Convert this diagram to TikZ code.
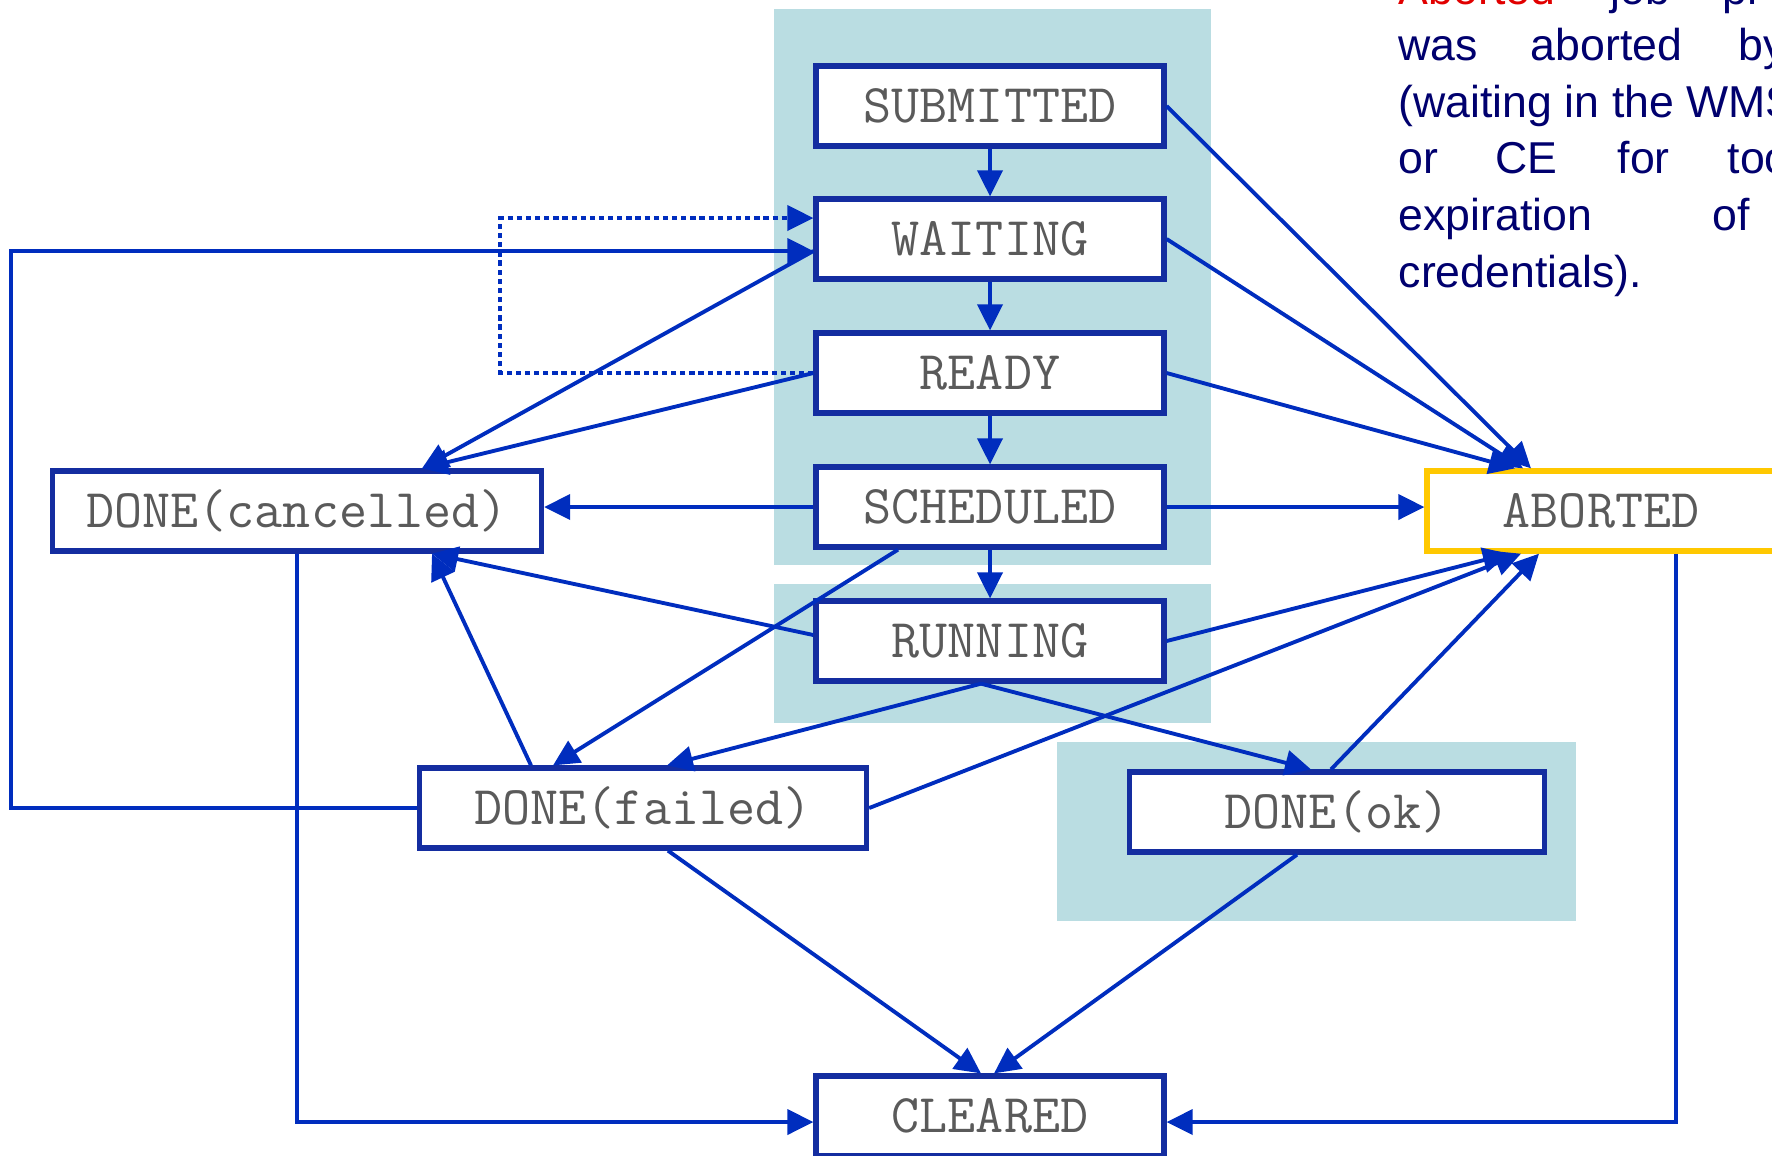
\documentclass[tikz,border=0pt]{standalone}
\usepackage{fontspec}
\setmainfont{Liberation Sans}
\usetikzlibrary{arrows.meta}
\definecolor{edgeblue}{RGB}{0,45,190}
\definecolor{boxblue}{RGB}{20,45,160}
\definecolor{zone}{RGB}{186,221,226}
\definecolor{navy}{RGB}{0,0,110}
\definecolor{abortred}{RGB}{225,0,0}
\definecolor{abortyellow}{RGB}{255,200,0}
\definecolor{stategray}{RGB}{90,90,90}

\begin{document}
\begin{tikzpicture}[>={Triangle[length=2.6mm,width=2.5mm]}, x=0.1mm, y=-0.1mm,
    stbox/.style={draw=boxblue, line width=1.5pt, fill=white, minimum width=34.8mm,
      minimum height=8mm, inner sep=0pt, text=stategray, font=\ttfamily\fontsize{15.5}{17}\selectfont},
    trans/.style={->, draw=edgeblue, line width=1.1pt},
    note/.style={anchor=base west, inner sep=0pt, text=navy, font=\fontsize{12.7}{15}\selectfont}]
        \useasboundingbox (0,0) rectangle (1772,1155);
        % shaded zones
        \fill[zone] (774,9) rectangle (1211,565);
        \fill[zone] (774,584) rectangle (1211,723);
        \fill[zone] (1057,742) rectangle (1576,921);

        \node[stbox] (sub) at (990,106) {SUBMITTED};
        \node[stbox] (wait) at (990,239) {WAITING};
        \node[stbox] (rdy) at (990,373) {READY};
        \node[stbox] (sched) at (990,507) {SCHEDULED};
        \node[stbox] (run) at (990,641) {RUNNING};
        \node[stbox, minimum width=48.9mm] (canc) at (297,511) {DONE(cancelled)};
        \node[stbox, draw=abortyellow] (abrt) at (1601,511) {ABORTED};
        \node[stbox, minimum width=44.7mm] (fail) at (643,808) {DONE(failed)};
        \node[stbox, minimum width=41.5mm] (ok) at (1337,812) {DONE(ok)};
        \node[stbox] (clr) at (990,1116) {CLEARED};

        \draw[trans] (sub) -- (wait);
        \draw[trans] (wait) -- (rdy);
        \draw[trans] (rdy) -- (sched);
        \draw[trans] (sched) -- (run);

        % to ABORTED
        \draw[trans] (sub.east) -- ([xshift=-7mm]abrt.north);
        \draw[trans] (wait.east) -- ([xshift=-7.8mm]abrt.north);
        \draw[trans] (rdy.east) -- ([xshift=-8.6mm]abrt.north);
        \draw[trans] (sched.east) -- (sched.east -| abrt.west);
        \draw[trans] (run.east) -- ([xshift=-9.2mm]abrt.south);
        \draw[trans] (fail.east) -- ([xshift=-8mm]abrt.south);
        \draw[trans] ([xshift=-0.6mm]ok.north) -- ([xshift=-6.2mm]abrt.south);

        % to DONE(cancelled)
        \draw[trans] (sched.west) -- (sched.west -| canc.east);
        \draw[trans] (rdy.west) -- ([xshift=12.5mm]canc.north);
        \draw[trans] ([yshift=-1.2mm]wait.west) -- ([xshift=12.5mm]canc.north);
        \draw[trans] ([yshift=0.6mm]run.west) -- ([xshift=13.5mm]canc.south);
        \draw[trans] ([xshift=-11.2mm]fail.north) -- ([xshift=13.5mm]canc.south);

        % back to WAITING
        \draw[trans] (fail.west) -- ++(-406,0) |- ([yshift=-1.2mm]wait.west);
        \draw[trans, dash pattern=on 1.5pt off 1.1pt] (rdy.west) -- ++(-313,0) |- ([yshift=2.1mm]wait.west);

        % to DONE(failed) and DONE(ok)
        \draw[trans] ([xshift=-9.2mm]sched.south) -- ([xshift=-9mm]fail.north);
        \draw[trans] ([xshift=-0.9mm]run.south) -- ([xshift=2.4mm]fail.north);
        \draw[trans] ([xshift=-0.9mm]run.south) -- ([xshift=-2.6mm]ok.north);

        % to CLEARED
        \draw[trans] ([xshift=2.5mm]fail.south) -- ([xshift=-0.9mm]clr.north);
        \draw[trans] ([xshift=-4mm]ok.south) -- ([xshift=0.4mm]clr.north);
        \draw[trans] (canc.south) |- ([yshift=-0.6mm]clr.west);
        \draw[trans] ([xshift=7.5mm]abrt.south) |- ([yshift=-0.6mm]clr.east);

        % note text
        \node[note, text=abortred] (t1a) at (1398,4) {Aborted};
        \node[note] (t1b) at (1610,4) {job};
        \node[note] (t1c) at (1722,4) {pr};
        \node[note] (t2a) at (1398,60) {was};
        \node[note] (t2b) at (1530,60) {aborted};
        \node[note] (t2c) at (1738,60) {by};
        \node[note] (t3a) at (1398,117) {(waiting in the WMS};
        \node[note] (t4a) at (1398,173) {or};
        \node[note] (t4b) at (1495,173) {CE};
        \node[note] (t4c) at (1617,173) {for};
        \node[note] (t4d) at (1727,173) {too};
        \node[note] (t5a) at (1398,230) {expiration};
        \node[note] (t5b) at (1712,230) {of};
        \node[note] (t6a) at (1398,287) {credentials).};
      \end{tikzpicture}
\end{document}
